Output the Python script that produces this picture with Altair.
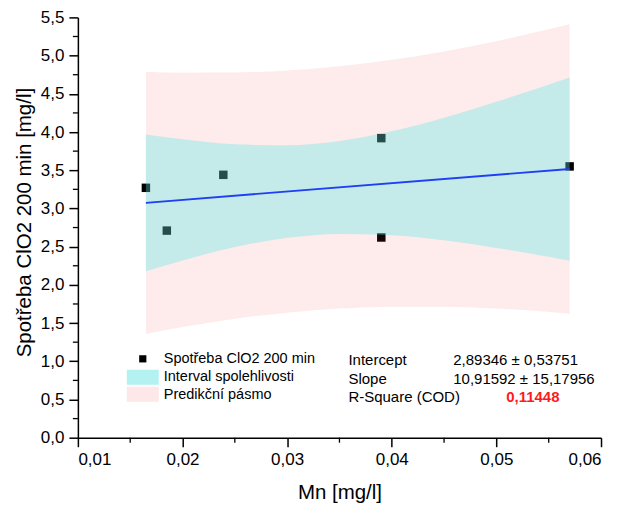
import altair as alt
import pandas as pd

FONT = "Liberation Sans"

# ---- data ----
mn_x = [0.0165, 0.0185, 0.0239, 0.0390, 0.0390, 0.0570]
clo2_y = [3.27, 2.71, 3.44, 3.92, 2.62, 3.55]

fit_x = [0.0165, 0.0570]
fit_y = [3.074, 3.516]

band_x = [0.0165, 0.020, 0.025, 0.030, 0.035, 0.040, 0.045, 0.050, 0.057]
ci_lo = [2.178, 2.320, 2.494, 2.615, 2.667, 2.650, 2.583, 2.484, 2.316]
ci_hi = [3.969, 3.904, 3.839, 3.827, 3.884, 4.010, 4.187, 4.395, 4.715]
pi_lo = [1.357, 1.447, 1.555, 1.636, 1.690, 1.715, 1.715, 1.691, 1.623]
pi_hi = [4.790, 4.777, 4.778, 4.806, 4.862, 4.945, 5.054, 5.188, 5.409]

y_ticks = [0.0, 0.5, 1.0, 1.5, 2.0, 2.5, 3.0, 3.5, 4.0, 4.5, 5.0, 5.5]
y_minor = [0.25, 0.75, 1.25, 1.75, 2.25, 2.75, 3.25, 3.75, 4.25, 4.75, 5.25]
x_ticks = [0.01, 0.02, 0.03, 0.04, 0.05, 0.06]
x_minor = [0.015, 0.025, 0.035, 0.045, 0.055]

legend_labels = ["Spotřeba ClO2 200 min", "Interval spolehlivosti", "Predikční pásmo"]
stat_names = ["Intercept", "Slope", "R-Square (COD)"]
stat_values = ["2,89346 ± 0,53751", "10,91592 ± 15,17956", "0,11448"]

x_title = "Mn [mg/l]"
y_title = "Spotřeba ClO2 200 min [mg/l]"

# ---- chart ----
W, H = 524, 421
xscale = alt.Scale(domain=[0.01, 0.06], nice=False, zero=False)
yscale = alt.Scale(domain=[0, 5.5], nice=False, zero=False)

xaxis = alt.Axis(values=x_ticks, title=x_title,
                 labelExpr="replace(format(datum.value, '.2f'), '.', ',')",
                 titleY=55, titleX=W / 2, titleBaseline="middle", labelPadding=5)
yaxis = alt.Axis(values=y_ticks, title=y_title,
                 labelExpr="replace(format(datum.value, '.1f'), '.', ',')",
                 titleX=-53, titleY=205, titleBaseline="middle", titleAngle=-90,
                 labelPadding=5)

pts_df = pd.DataFrame({"x": mn_x, "y": clo2_y})
band_df = pd.DataFrame({"x": band_x, "ci_lo": ci_lo, "ci_hi": ci_hi,
                        "pi_lo": pi_lo, "pi_hi": pi_hi})
fit_df = pd.DataFrame({"x": fit_x, "y": fit_y})

points = alt.Chart(pts_df).mark_square(color="black", size=72, opacity=1).encode(
    x=alt.X("x:Q", scale=xscale, axis=xaxis),
    y=alt.Y("y:Q", scale=yscale, axis=yaxis),
)

pi_band = alt.Chart(band_df).mark_area(color="#f01e1e", opacity=0.09,
                                       interpolate="monotone").encode(
    x=alt.X("x:Q", scale=xscale, axis=xaxis),
    y=alt.Y("pi_lo:Q", scale=yscale, axis=yaxis), y2="pi_hi:Q")

ci_band = alt.Chart(band_df).mark_area(color="#4aeaea", opacity=0.32,
                                       interpolate="monotone").encode(
    x=alt.X("x:Q", scale=xscale, axis=xaxis),
    y=alt.Y("ci_lo:Q", scale=yscale, axis=yaxis), y2="ci_hi:Q")

fit_line = alt.Chart(fit_df).mark_line(color="#1f3ff5", strokeWidth=1.8).encode(
    x=alt.X("x:Q", scale=xscale, axis=xaxis),
    y=alt.Y("y:Q", scale=yscale, axis=yaxis))

y_minor_ticks = alt.Chart(pd.DataFrame({"v": y_minor})).mark_rule(
    color="black", strokeWidth=1.3).encode(
    y=alt.Y("v:Q", scale=yscale, axis=yaxis), x=alt.value(0), x2=alt.value(-5))

x_minor_ticks = alt.Chart(pd.DataFrame({"v": x_minor})).mark_rule(
    color="black", strokeWidth=1.3).encode(
    x=alt.X("v:Q", scale=xscale, axis=xaxis), y=alt.value(H), y2=alt.value(H + 5))


def txt(s, x, y, size=14.5, color="black", weight="normal"):
    return alt.Chart(pd.DataFrame({"t": [s]})).mark_text(
        align="left", baseline="middle", font=FONT, fontSize=size,
        color=color, fontWeight=weight).encode(
        text="t:N", x=alt.value(x), y=alt.value(y))


one = pd.DataFrame({"a": [0]})
leg_square = alt.Chart(one).mark_square(color="black", size=52, opacity=1).encode(
    x=alt.value(65), y=alt.value(342))
leg_ci = alt.Chart(one).mark_rect(color="#b4f2f2").encode(
    x=alt.value(49), x2=alt.value(81), y=alt.value(353), y2=alt.value(368))
leg_pi = alt.Chart(one).mark_rect(color="#fde7e7").encode(
    x=alt.value(49), x2=alt.value(81), y=alt.value(370), y2=alt.value(385))

leg_rows_y = [342, 360.5, 378]
stat_rows_y = [343, 362, 380.5]

texts = [txt(legend_labels[i], 86, leg_rows_y[i]) for i in range(3)]
texts += [txt(stat_names[i], 271, stat_rows_y[i], size=15) for i in range(3)]
texts += [txt(stat_values[0], 376, stat_rows_y[0], size=15),
          txt(stat_values[1], 376, stat_rows_y[1], size=15),
          txt(stat_values[2], 429, stat_rows_y[2], size=15, color="#ff1a1a", weight="bold")]

chart = alt.layer(
    points, pi_band, ci_band, fit_line, y_minor_ticks, x_minor_ticks,
    leg_square, leg_ci, leg_pi, *texts
).properties(
    width=W, height=H,
    autosize=alt.AutoSizeParams(type="none"),
    padding={"left": 70, "top": 9, "right": 10, "bottom": 70},
).configure_view(stroke=None).configure_axis(
    grid=False, domainColor="black", domainWidth=1.5, tickColor="black",
    tickWidth=1.5, tickSize=9, labelFont=FONT, labelFontSize=17,
    labelColor="black", titleFont=FONT, titleFontSize=20.5,
    titleColor="black", titleFontWeight="normal",
)

chart.save("out.html", embed_options={"renderer": "svg", "actions": False})
